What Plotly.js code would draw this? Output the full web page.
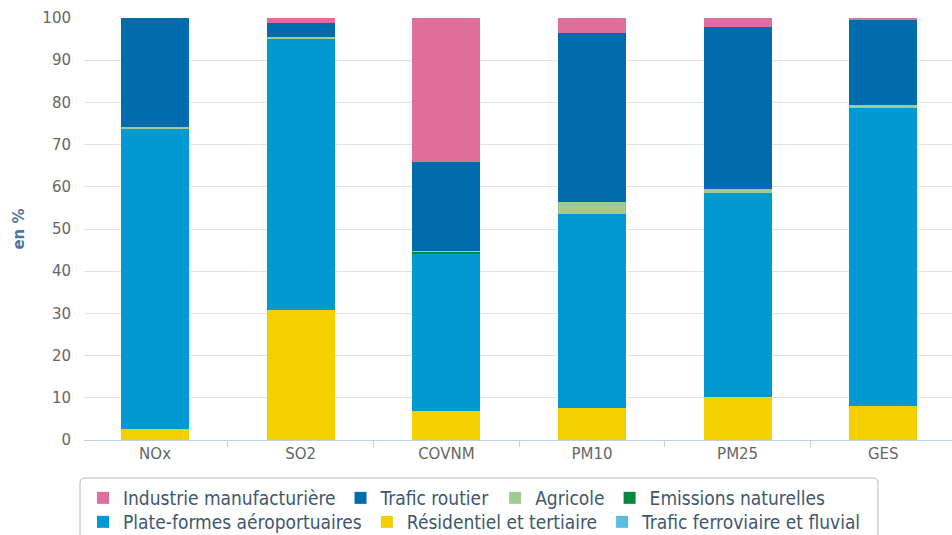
<!DOCTYPE html>
<html>
<head>
<meta charset="utf-8">
<script src="https://cdn.plot.ly/plotly-3.0.1.min.js"></script>
<style>html,body{margin:0;padding:0;background:#fff;}#chart{width:952px;height:535px;}</style>
</head>
<body>
<div id="chart"></div>
<script>
const categories = ["NOx", "SO2", "COVNM", "PM10", "PM25", "GES"];

const industrie   = [0.0, 1.3, 34.3, 3.6, 2.1, 0.4];
const traficRoutier = [25.9, 3.2, 21.0, 40.0, 38.4, 20.3];
const agricole    = [0.3, 0.3, 0.1, 2.9, 0.9, 0.7];
const emissionsNat = [0.0, 0.0, 0.4, 0.0, 0.0, 0.0];
const plateformes = [71.1, 64.4, 37.4, 45.8, 48.3, 70.5];
const residentiel = [2.7, 30.8, 6.9, 7.7, 10.3, 8.1];
const ferroviaire = [0.0, 0.0, 0.0, 0.0, 0.0, 0.0];

const yTicks = [0, 10, 20, 30, 40, 50, 60, 70, 80, 90, 100];

// bottom-to-top stacking order
const series = [
  {name: "Trafic ferroviaire et fluvial", y: ferroviaire, color: "#5bbde2", legend: "legend2"},
  {name: "Résidentiel et tertiaire", y: residentiel, color: "#f5d000", legend: "legend2"},
  {name: "Plate-formes aéroportuaires", y: plateformes, color: "#0099d2", legend: "legend2"},
  {name: "Emissions naturelles", y: emissionsNat, color: "#00883f", legend: "legend"},
  {name: "Agricole", y: agricole, color: "#9fcb8f", legend: "legend"},
  {name: "Trafic routier", y: traficRoutier, color: "#006cac", legend: "legend"},
  {name: "Industrie manufacturière", y: industrie, color: "#de6e9c", legend: "legend"}
];

const traces = series.map(s => ({
  type: "bar",
  x: categories,
  y: s.y,
  name: s.name,
  legend: s.legend,
  marker: {color: s.color, line: {width: 0}},
  hoverinfo: "x+y+name"
}));

// plot area geometry helpers (paper units)
const W = 868, H = 422;
const px = v => (v - 84) / W;
const py = v => (440 - v) / H;
const x0 = px(80), x1 = px(878), yT = py(478), yB = py(560);
const rx = 5 / W, ry = 5 / H;
const boxPath = `M${x0},${yB} L${x0},${yT - ry} Q${x0},${yT} ${x0 + rx},${yT} L${x1 - rx},${yT} Q${x1},${yT} ${x1},${yT - ry} L${x1},${yB}`;

const legendFont = {family: "DejaVu Sans Condensed, DejaVu Sans, sans-serif", size: 19, color: "#3e576f"};

const layout = {
  width: 952,
  height: 535,
  paper_bgcolor: "#ffffff",
  plot_bgcolor: "#ffffff",
  margin: {l: 84, r: 0, t: 18, b: 95, autoexpand: false},
  barmode: "stack",
  bargap: 0.532,
  showlegend: true,
  font: {family: "DejaVu Sans, sans-serif", color: "#666666"},
  xaxis: {
    type: "category",
    range: [-0.488, 5.472],
    showgrid: false,
    showline: true,
    linecolor: "#c0d0e0",
    linewidth: 1,
    ticks: "outside",
    tickson: "boundaries",
    ticklen: 6,
    tickcolor: "#c0d0e0",
    tickfont: {family: "DejaVu Sans, sans-serif", size: 15, color: "#666666"},
    fixedrange: true
  },
  yaxis: {
    range: [0, 100],
    tickvals: yTicks,
    ticktext: yTicks.map(String),
    showgrid: true,
    gridcolor: "#e3e3e3",
    gridwidth: 1,
    zeroline: false,
    showline: false,
    ticks: "",
    ticklabelstandoff: 12,
    tickfont: {family: "DejaVu Sans, sans-serif", size: 15, color: "#666666"},
    title: {text: "en %", font: {family: "DejaVu Sans, sans-serif", size: 15, color: "#4d759e", weight: "bold"}, standoff: 14},
    fixedrange: true
  },
  legend: {
    orientation: "h",
    traceorder: "reversed",
    x: px(83), xanchor: "left",
    y: py(479), yanchor: "top",
    xref: "paper", yref: "paper",
    bgcolor: "rgba(0,0,0,0)",
    borderwidth: 0,
    font: legendFont,
    itemclick: false, itemdoubleclick: false
  },
  legend2: {
    orientation: "h",
    traceorder: "reversed",
    x: px(83), xanchor: "left",
    y: py(503), yanchor: "top",
    xref: "paper", yref: "paper",
    bgcolor: "rgba(0,0,0,0)",
    borderwidth: 0,
    font: legendFont,
    itemclick: false, itemdoubleclick: false
  },
  shapes: [{
    type: "path",
    xref: "paper", yref: "paper",
    path: boxPath,
    line: {color: "#b8b8b8", width: 1},
    fillcolor: "rgba(0,0,0,0)"
  }]
};

Plotly.newPlot("chart", traces, layout, {displayModeBar: false, staticPlot: false});
</script>
</body>
</html>
